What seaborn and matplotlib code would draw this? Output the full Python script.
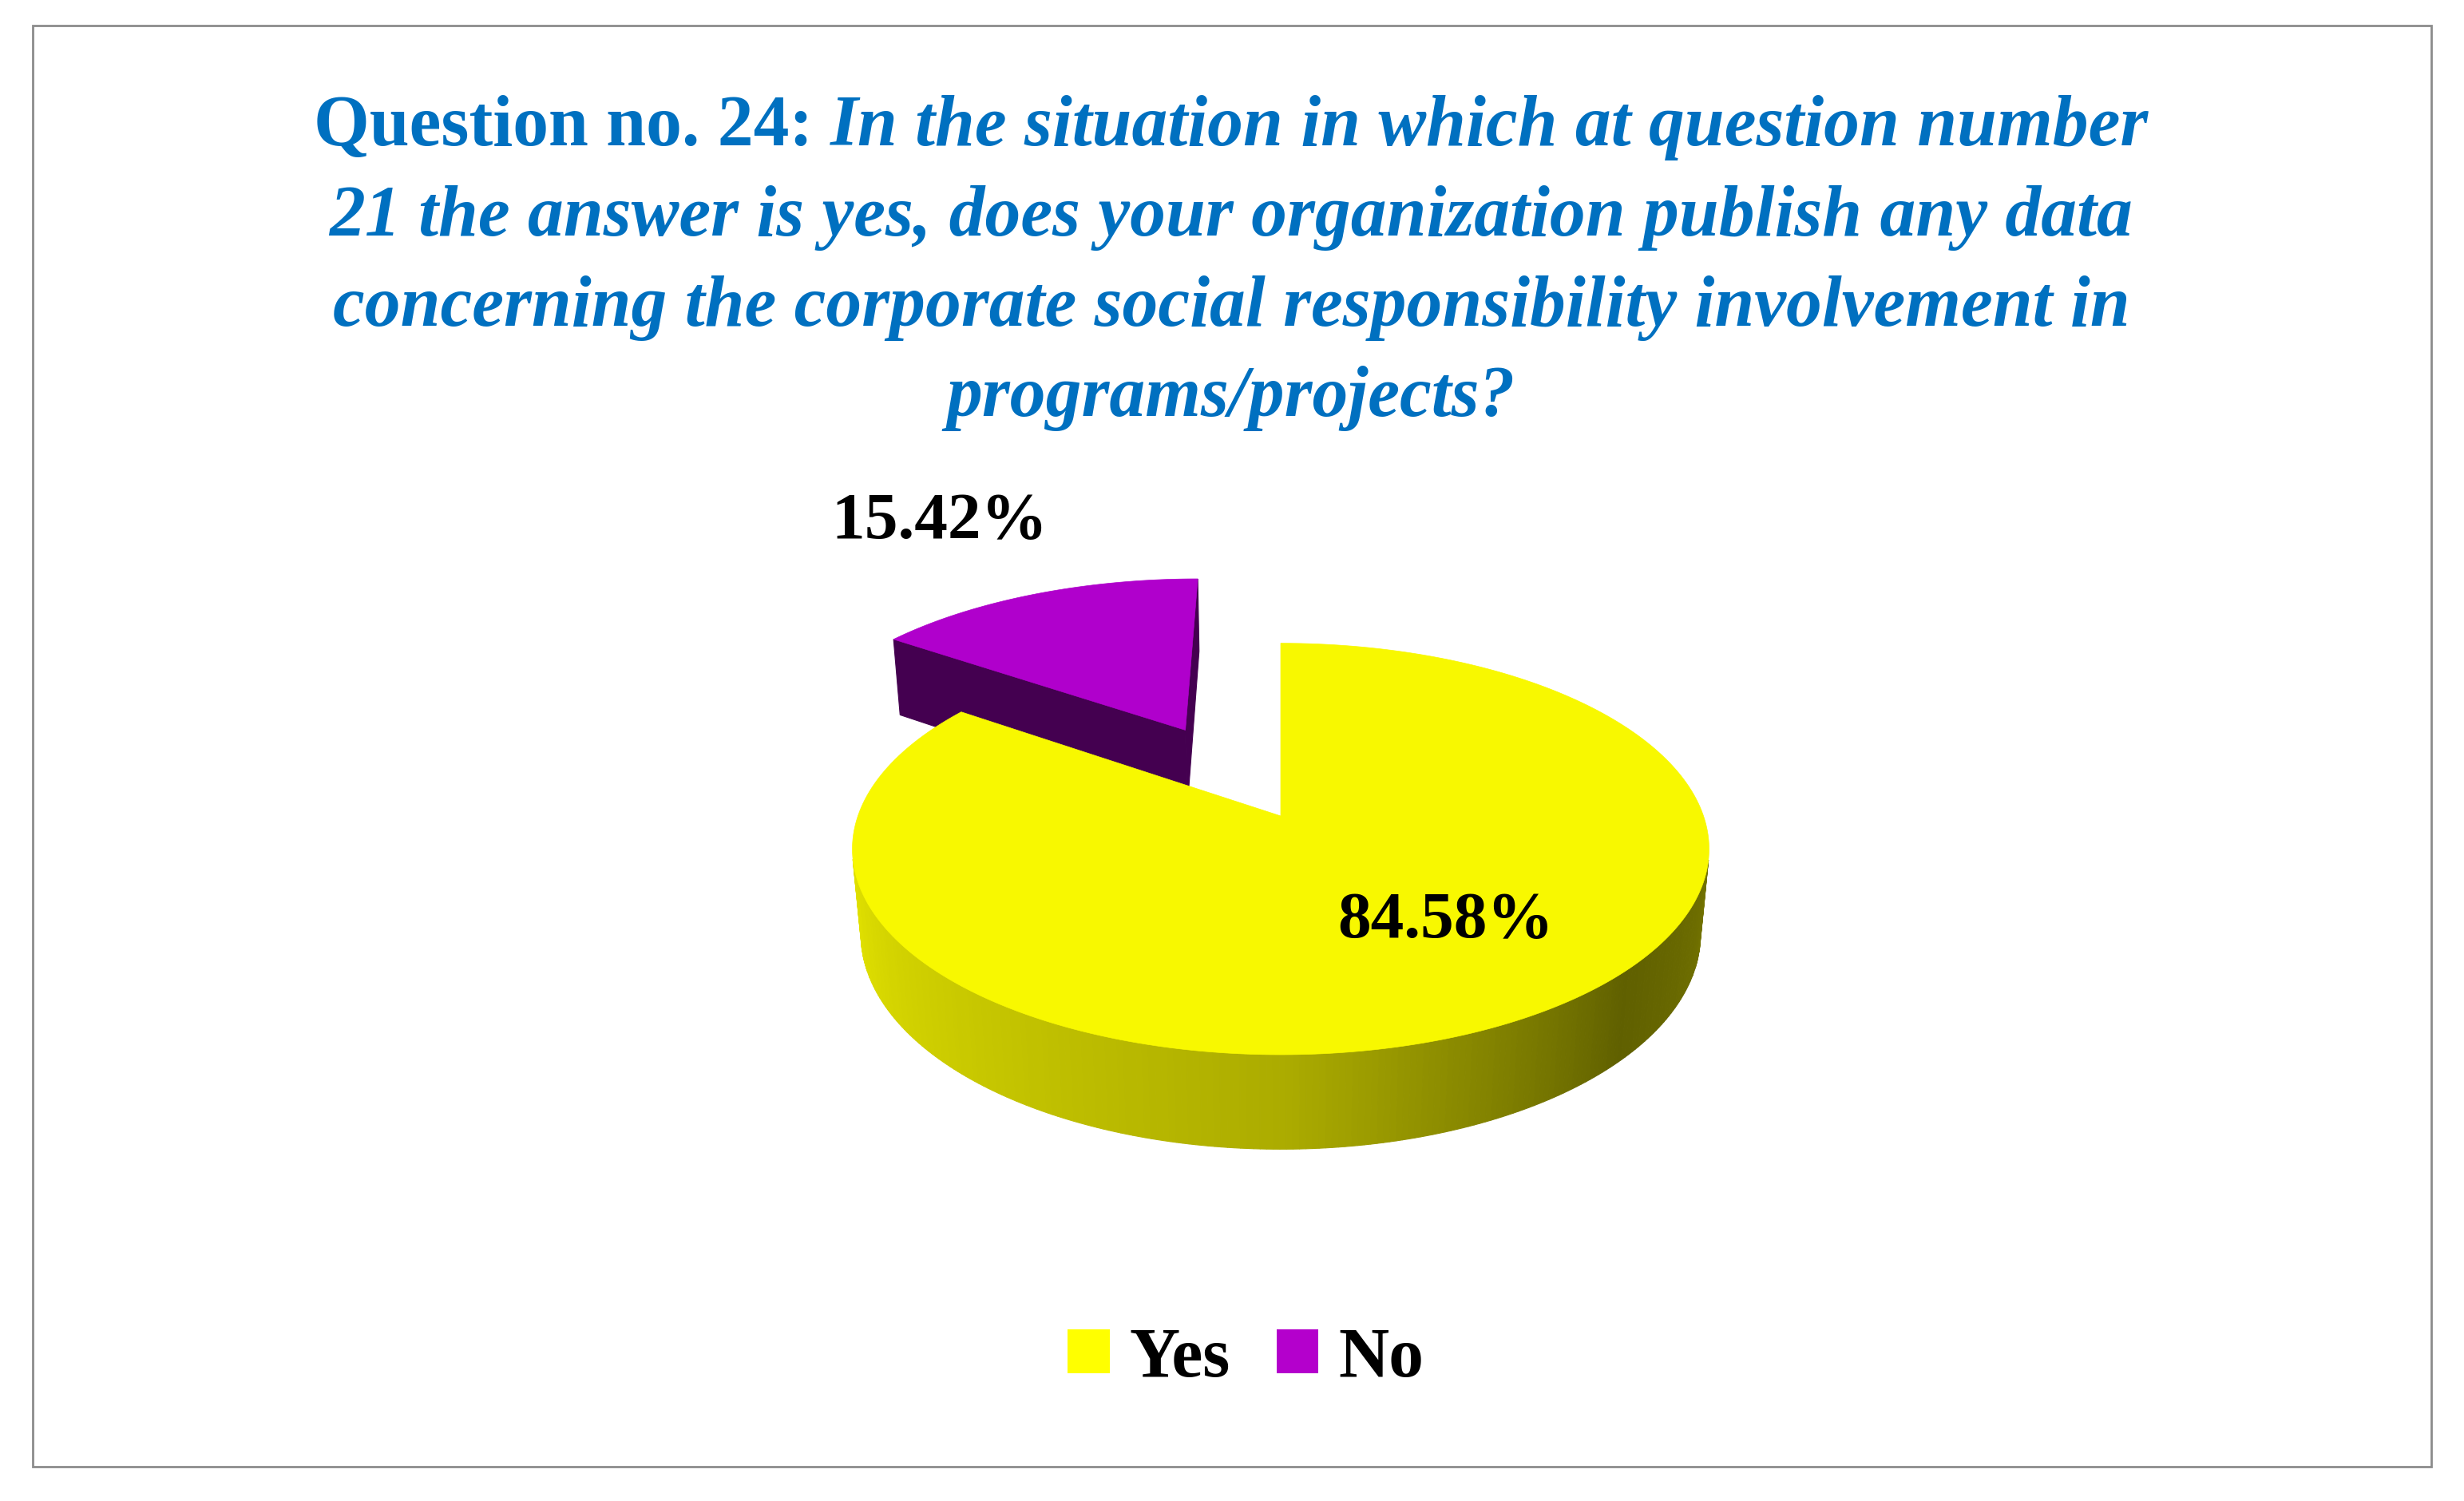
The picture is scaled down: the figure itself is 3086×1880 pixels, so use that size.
import numpy as np
import seaborn as sns
import matplotlib.pyplot as plt
from matplotlib.patches import Polygon, Patch, Rectangle
from matplotlib.colors import LinearSegmentedColormap

# data
labels = ['Yes', 'No']
shares = [84.58, 15.42]
pct_labels = ['84.58%', '15.42%']
explode = [0.0, 0.52]
top_colors = ['#F8F800', '#B000CC']
side_colors = ['#5a5a00', '#440050']
legend_colors = ['#FFFF00', '#B400CC']

title_bold = 'Question no. 24:'
title_lines = ['In the situation in which at question number',
               '21 the answer is yes, does your organization publish any data',
               'concerning the corporate social responsibility involvement in',
               'programs/projects?']

sns.set_theme(style='white')
plt.rcParams['font.family'] = ['Liberation Serif', 'DejaVu Serif']
plt.rcParams['text.color'] = 'black'

W, H = 3086, 1881
fig = plt.figure(figsize=(W / 100, H / 100), dpi=100)
ax = fig.add_axes([0, 0, 1, 1])
ax.set_xlim(0, W)
ax.set_ylim(H, 0)
ax.axis('off')

# simple perspective camera for the 3d pie
tilt = np.radians(28.3)
dist = 5.49
focal = 2907
cx, cy = 1604, 1023
thick = 0.231
cam = np.array([0.0, -dist * np.cos(tilt)])


def project(u, v, h=0.0):
    zc = dist + v * np.cos(tilt) - h * np.sin(tilt)
    yc = v * np.sin(tilt) + h * np.cos(tilt)
    return cx + focal * u / zc, cy - focal * yc / zc


wall_cmap = LinearSegmentedColormap.from_list(
    'wall', [(0, '#e2e200'), (0.5, '#acac00'), (0.8, '#606000'), (1.0, '#727200')])

# slice angles, starting at 12 o'clock going clockwise
fracs = np.array(shares) / sum(shares) * 360
ends = 90 - np.concatenate([[0], np.cumsum(fracs)])
slices = []
for i in range(len(shares)):
    a0, a1 = np.radians(ends[i + 1]), np.radians(ends[i])
    mid = (a0 + a1) / 2
    ox, oy = explode[i] * np.cos(mid), explode[i] * np.sin(mid)
    slices.append((i, a0, a1, ox, oy))

# back slices first
slices.sort(key=lambda s: -s[4])

for i, a0, a1, ox, oy in slices:
    # radial faces
    for a, sgn in [(a0, 1), (a1, -1)]:
        n = np.array([sgn * np.sin(a), -sgn * np.cos(a)])
        if n @ (cam - np.array([ox, oy])) > 0:
            pts = [project(ox, oy, 0), project(ox + np.cos(a), oy + np.sin(a), 0),
                   project(ox + np.cos(a), oy + np.sin(a), -thick), project(ox, oy, -thick)]
            ax.add_patch(Polygon(pts, closed=True, facecolor=side_colors[i],
                                 edgecolor=side_colors[i], lw=0.8, zorder=2))
    # outer wall
    th = np.linspace(a0, a1, 400)
    for t0, t1 in zip(th[:-1], th[1:]):
        tm = (t0 + t1) / 2
        n = np.array([np.cos(tm), np.sin(tm)])
        p = np.array([ox + np.cos(tm), oy + np.sin(tm)])
        if n @ (cam - p) <= 0:
            continue
        deg = np.degrees(tm) % 360
        if i == 0:
            col = wall_cmap(np.clip((deg - 192) / 156, 0, 1))
        else:
            col = side_colors[i]
        pts = [project(ox + np.cos(t0), oy + np.sin(t0), 0),
               project(ox + np.cos(t1), oy + np.sin(t1), 0),
               project(ox + np.cos(t1), oy + np.sin(t1), -thick),
               project(ox + np.cos(t0), oy + np.sin(t0), -thick)]
        ax.add_patch(Polygon(pts, closed=True, facecolor=col, edgecolor=col, lw=0.8, zorder=2))
    # top face
    pts = [project(ox, oy)] + [project(ox + np.cos(t), oy + np.sin(t)) for t in th]
    ax.add_patch(Polygon(pts, closed=True, facecolor=top_colors[i],
                         edgecolor=top_colors[i], lw=0.5, zorder=2))

# percentage labels
lab_pos = [(1811, 1155), (1177, 655)]
for (x, y), s in zip(lab_pos, pct_labels):
    ax.text(x, y, s, ha='center', va='center', fontsize=60, fontweight='bold',
            color='black', zorder=5)

# title
blue = '#0070C0'
tsize = 64.5
r = fig.canvas.get_renderer()
t1 = ax.text(0, 182, title_bold, fontsize=tsize, fontweight='bold', color=blue, va='baseline')
t2 = ax.text(0, 182, title_lines[0], fontsize=tsize, fontweight='bold', style='italic',
             color=blue, va='baseline')
w1 = t1.get_window_extent(r).width
w2 = t2.get_window_extent(r).width
gap = 22
x0 = 1542 - (w1 + gap + w2) / 2
t1.set_x(x0)
t2.set_x(x0 + w1 + gap)
for k, line in enumerate(title_lines[1:]):
    ax.text(1542, 182 + 113 * (k + 1), line, fontsize=tsize, fontweight='bold',
            style='italic', color=blue, ha='center', va='baseline')

# legend
handles = [Patch(facecolor=c, edgecolor='none', label=l) for c, l in zip(legend_colors, labels)]
fig.legend(handles=handles, loc='center', bbox_to_anchor=(1560 / W, 1 - 1703 / H), ncol=2,
           frameon=False, prop={'weight': 'bold', 'size': 63}, handlelength=0.6,
           handleheight=0.6, handletextpad=0.28, columnspacing=0.67, labelcolor='black')

# outer border
ax.add_patch(Rectangle((41, 33), 3004, 1805, fill=False, edgecolor='#8c8c8c', lw=2, zorder=1))

fig.savefig('out.png', dpi=100)
